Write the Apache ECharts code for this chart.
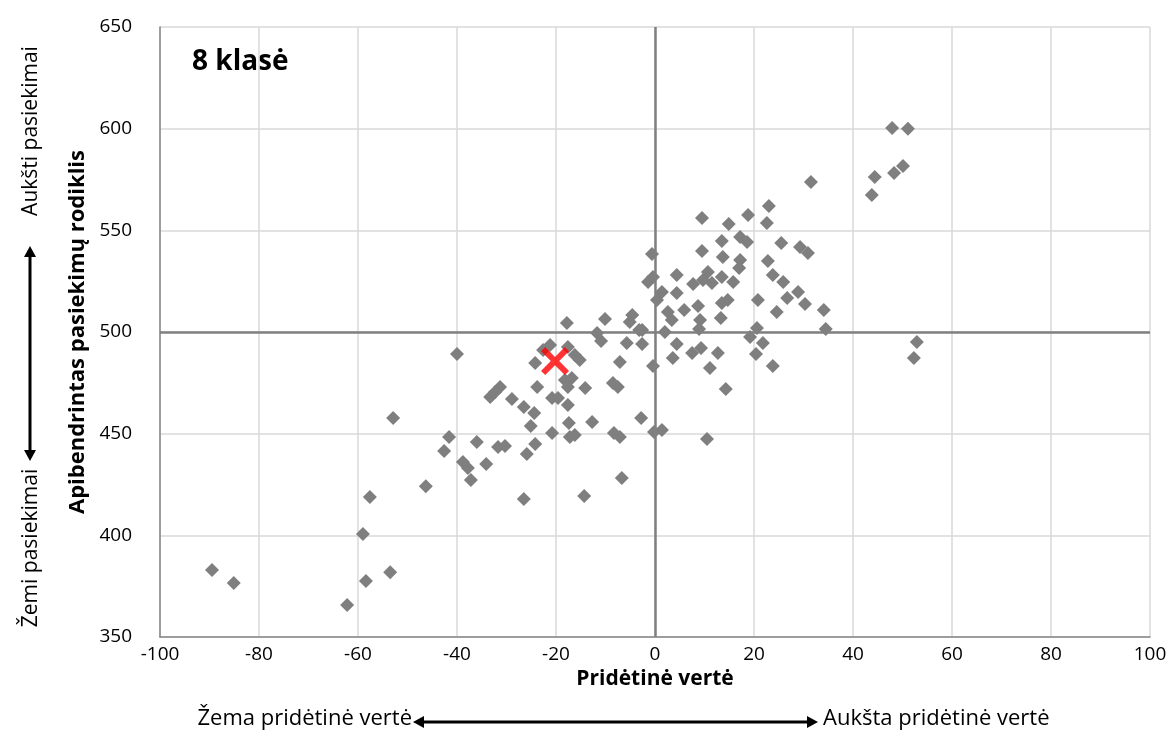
<!DOCTYPE html>
<html><head><meta charset="utf-8">
<script src="https://cdn.jsdelivr.net/npm/echarts@6/dist/echarts.min.js"></script>
<style>html,body{margin:0;padding:0;background:#fff}#c{width:1175px;height:749px}</style>
</head><body><div id="c"></div>
<script>
// School points: [pridėtinė vertė, apibendrintas pasiekimų rodiklis]
const schools = [
[-89.5,382.9],[-85.1,376.5],[-62.2,365.7],[-58.4,377.5],[-53.5,381.9],[-59.0,400.6],[-57.6,418.8],[-52.9,457.7],
[-40.0,489.2],[-41.6,448.4],[-42.6,441.5],[-38.8,436.1],[-37.8,433.1],[-37.2,427.2],[-46.3,424.2],[-36.0,445.9],
[-31.7,443.4],[-30.3,443.9],[-34.1,435.1],[-25.9,440.0],[-24.2,444.9],[-26.5,417.9],[-14.3,419.3],[-6.7,428.2],
[-31.3,472.9],[-32.3,470.5],[-33.3,468.0],[-28.9,467.0],[-26.5,463.1],[-24.4,460.2],[-25.1,453.8],[-20.8,450.3],
[-17.4,455.2],[-17.2,448.4],[-16.2,449.3],[-12.7,455.7],[-8.3,450.3],[-7.1,448.4],[-2.8,457.7],[-0.2,450.8],
[1.4,451.8],[10.5,447.4],[-20.8,467.5],[-19.6,467.5],[-17.6,464.1],[-23.8,472.9],[-18.2,476.4],[-16.8,477.4],
[-17.6,472.9],[-14.1,472.5],[-8.5,474.9],[-7.5,472.9],[-24.2,484.8],[-22.6,491.1],[-21.2,493.6],[-17.6,492.6],
[-16.2,488.7],[-15.2,486.2],[-17.8,504.4],[-10.1,506.4],[-4.6,508.4],[-5.1,504.9],[-3.2,501.0],[-11.7,499.5],
[-10.9,495.6],[-5.7,494.6],[-2.6,494.1],[-7.1,485.2],[-0.4,483.3],[-2.6,501.0],[-0.6,538.4],[9.5,539.8],
[13.5,544.8],[17.2,546.7],[18.6,544.3],[13.7,536.9],[17.2,535.4],[17.0,531.5],[22.8,534.9],[-0.4,527.1],
[-1.4,524.6],[4.4,528.0],[1.4,519.7],[0.4,515.7],[4.4,519.2],[7.7,523.6],[10.7,529.5],[9.7,525.6],
[11.5,524.1],[13.5,527.1],[15.8,524.6],[20.8,515.7],[14.7,515.7],[13.5,514.3],[2.6,509.8],[3.4,505.9],
[5.9,510.8],[8.7,512.8],[13.3,506.9],[9.1,505.9],[8.9,501.5],[2.0,500.0],[20.6,502.0],[19.2,497.5],
[21.8,494.6],[20.4,489.2],[4.4,494.1],[3.6,487.2],[7.5,489.7],[9.3,492.1],[12.7,489.7],[11.1,482.3],
[14.3,472.0],[31.5,573.8],[23.0,562.0],[22.6,553.6],[25.5,543.8],[29.3,541.8],[30.9,538.9],[23.8,528.0],
[25.9,524.6],[28.9,519.7],[26.7,516.7],[30.3,513.8],[34.1,510.8],[24.6,509.8],[34.5,501.5],[23.8,483.3],
[9.5,556.1],[14.9,553.1],[18.8,557.6],[47.9,600.3],[51.1,599.9],[44.4,576.2],[48.3,578.2],[50.1,581.7],
[43.8,567.4],[52.9,495.1],[52.3,487.2]
];
// Highlighted school (red cross)
const highlight = [[-20.2, 485.7]];
// Reference lines
const refX = [0];
const refY = [500];
// Axis ranges / ticks
const xTicks = [-100, 100, 20];
const yTicks = [350, 650, 50];
// Texts
const chartTitle = '8 klasė';
const xTitle = 'Pridėtinė vertė';
const yTitle = 'Apibendrintas pasiekimų rodiklis';
const xLow = 'Žema pridėtinė vertė';
const xHigh = 'Aukšta pridėtinė vertė';
const yLow = 'Žemi pasiekimai';
const yHigh = 'Aukšti pasiekimai';

const FONT = 'Open Sans';
const chart = echarts.init(document.getElementById('c'));
const crossPath = 'path://M0,3 L3,0 L10,7 L17,0 L20,3 L13,10 L20,17 L17,20 L10,13 L3,20 L0,17 L7,10 Z';

function arrowHead(x, y, dir) {
  let pts;
  if (dir === 'l') pts = [[x, y], [x + 11, y - 6], [x + 11, y + 6]];
  if (dir === 'r') pts = [[x, y], [x - 11, y - 6], [x - 11, y + 6]];
  if (dir === 'u') pts = [[x, y], [x - 6, y + 11], [x + 6, y + 11]];
  if (dir === 'd') pts = [[x, y], [x - 6, y - 11], [x + 6, y - 11]];
  return { type: 'polygon', shape: { points: pts }, style: { fill: '#000' }, silent: true };
}

chart.setOption({
  animation: false,
  backgroundColor: '#fff',
  grid: { left: 160, right: 25, top: 27, bottom: 112, containLabel: false },
  xAxis: {
    type: 'value', min: xTicks[0], max: xTicks[1], interval: xTicks[2],
    name: xTitle, nameLocation: 'middle', nameGap: 31,
    nameTextStyle: { fontFamily: FONT, fontWeight: 'bold', fontSize: 21, color: '#000' },
    axisLine: { show: true, onZero: false, lineStyle: { color: '#868686', width: 1.5 } },
    axisTick: { show: false },
    axisLabel: { fontFamily: FONT, fontSize: 19, color: '#000', margin: 8 },
    splitLine: { show: true, lineStyle: { color: '#d9d9d9', width: 1.5 } }
  },
  yAxis: {
    type: 'value', min: yTicks[0], max: yTicks[1], interval: yTicks[2],
    name: yTitle, nameLocation: 'middle', nameGap: 44, nameRotate: 90,
    nameTextStyle: { fontFamily: FONT, fontWeight: 'bold', fontSize: 22, color: '#000' },
    axisLine: { show: true, onZero: false, lineStyle: { color: '#868686', width: 1.5 } },
    axisTick: { show: false },
    axisLabel: { fontFamily: FONT, fontSize: 19, color: '#000', margin: 28 },
    splitLine: { show: true, lineStyle: { color: '#d9d9d9', width: 1.5 } }
  },
  series: [
    {
      type: 'scatter', data: [], z: 1, silent: true,
      markLine: {
        silent: true, symbol: 'none', animation: false,
        label: { show: false },
        lineStyle: { color: '#808080', width: 2.5, type: 'solid' },
        data: refX.map(v => ({ xAxis: v })).concat(refY.map(v => ({ yAxis: v })))
      }
    },
    {
      type: 'scatter', data: schools, symbol: 'diamond', symbolSize: 14, z: 3,
      itemStyle: { color: '#7f7f7f', opacity: 1 }
    },
    {
      type: 'scatter', data: highlight, symbol: crossPath, symbolSize: 28, z: 5,
      itemStyle: { color: '#ff0000' }
    }
  ],
  graphic: [
    { type: 'text', left: 192, top: 48, style: { text: chartTitle, font: 'bold 28px "' + FONT + '"', fill: '#000' } },
    { type: 'text', right: 1175 - 412, top: 708, style: { text: xLow, font: '22px "' + FONT + '"', fill: '#000' } },
    { type: 'text', left: 823, top: 708, style: { text: xHigh, font: '22px "' + FONT + '"', fill: '#000' } },
    { type: 'line', shape: { x1: 418, y1: 722, x2: 812, y2: 722 }, style: { stroke: '#000', lineWidth: 3 }, silent: true },
    arrowHead(413, 722, 'l'), arrowHead(818, 722, 'r'),
    { type: 'text', x: 31, y: 131, rotation: Math.PI / 2, style: { text: yHigh, font: '21px "' + FONT + '"', fill: '#000', align: 'center', verticalAlign: 'middle' } },
    { type: 'text', x: 31, y: 548, rotation: Math.PI / 2, style: { text: yLow, font: '21px "' + FONT + '"', fill: '#000', align: 'center', verticalAlign: 'middle' } },
    { type: 'line', shape: { x1: 30, y1: 252, x2: 30, y2: 455 }, style: { stroke: '#000', lineWidth: 3 }, silent: true },
    arrowHead(30, 246, 'u'), arrowHead(30, 461, 'd')
  ]
});
</script>
</body></html>
